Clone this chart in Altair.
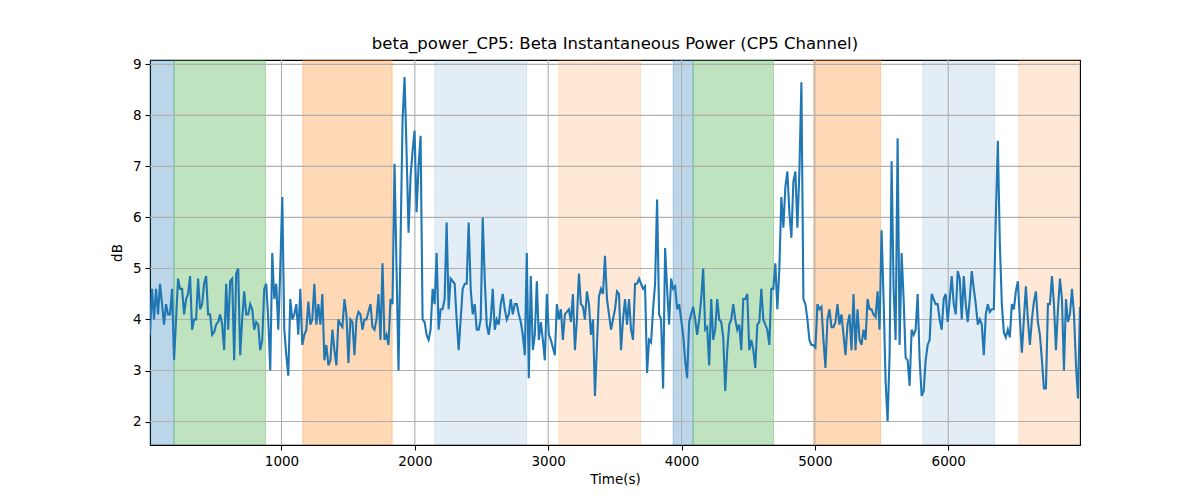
import altair as alt
import pandas as pd

# Beta power (dB) in order, left to right
seg_a = [3.7, 4.6, 4.0, 4.6, 4.1, 4.7, 4.3, 3.9, 4.3, 4.1, 4.1, 4.6, 3.2, 4.0, 4.8,
         4.6, 4.6, 4.1, 4.4, 4.5, 4.85, 3.8, 4.0, 4.0, 4.8, 4.2, 4.3, 4.7, 4.85, 4.1,
         4.1, 3.7, 3.75, 3.9, 3.95, 4.1, 3.9, 3.4, 4.7, 3.8, 4.75, 4.8, 3.2, 4.9, 5.0,
         3.3, 4.0, 4.55, 4.1, 4.1, 4.3, 4.2, 3.8, 3.95, 3.9, 3.4, 3.6, 4.6, 4.7]
seg_b = [4.0, 3.0, 5.3, 4.4, 4.7, 3.8, 5.0, 6.4, 3.8, 3.3, 2.9, 4.4, 4.0, 4.1, 4.3,
         3.7, 4.6, 3.5, 3.7, 3.8, 4.35, 3.9, 4.0, 4.7, 3.9, 4.3, 3.9, 4.5, 3.2, 3.5,
         3.1, 3.2, 3.8, 3.4, 3.1, 4.0, 3.9, 3.85, 4.4, 4.1, 3.15, 4.0, 3.95, 3.3, 4.0,
         4.15, 4.1, 3.8, 4.0, 4.0, 4.15, 4.3, 3.85, 3.8, 4.0, 4.5, 3.6, 5.1, 3.6, 3.7,
         3.5, 4.4, 4.3]
seg_c = [7.05, 5.0, 3.0, 5.5, 7.9, 8.75, 7.3, 5.7, 6.8, 7.3, 7.7, 6.1, 7.0, 7.6, 4.0,
         3.95, 3.7, 3.6, 3.8, 4.6, 4.3, 5.3, 3.8, 4.2, 4.2, 4.4, 5.9, 4.2, 4.8, 4.75,
         4.7, 4.0, 3.4, 4.0, 4.6, 4.7, 4.7, 5.9, 4.6, 4.1, 4.3, 3.8, 3.8, 4.0, 6.0,
         4.8, 3.9, 3.7, 4.0, 4.6, 3.8, 4.0, 3.9, 4.3, 4.5, 4.2, 4.0, 4.1, 4.4, 4.1]
seg_d = [4.3, 4.3, 4.1, 3.95, 3.7, 3.3, 5.3, 2.85, 4.85, 3.4, 3.7, 4.75, 3.6, 3.95, 3.6,
         3.2, 4.5, 3.7, 3.6, 3.45, 3.3, 4.3, 4.0, 4.2, 3.6, 4.1, 4.15, 4.2, 3.95, 4.5,
         3.4, 4.0, 4.9, 4.3, 4.25, 4.0, 4.55, 4.3, 3.7, 4.0, 2.5, 3.5, 4.45, 4.6, 4.5,
         5.25, 4.4, 4.1, 3.8, 4.0, 4.2, 4.55, 4.5, 3.4, 4.0, 4.4, 3.9, 4.4, 3.8, 3.6]
seg_e = [4.7, 4.7, 4.8, 4.7, 4.6, 4.65, 2.95, 3.6, 3.55, 4.2, 4.7, 6.35, 4.1, 4.0, 2.65,
         5.4, 4.6, 3.9, 4.8, 4.6, 4.65, 4.2, 4.3, 4.0, 3.7, 3.2, 2.85, 3.95, 4.1, 4.25,
         4.0, 3.7, 4.0, 4.4, 5.0, 3.8, 3.85, 3.1, 4.4, 3.6, 3.8, 4.4, 4.0, 3.95, 3.65,
         2.6, 3.4, 3.9, 4.0, 4.3, 4.0, 3.8, 3.9, 3.4, 4.4, 4.4, 4.5, 3.4, 3.6, 3.4]
seg_f = [3.05, 3.9, 3.95, 4.6, 4.0, 3.9, 3.8, 3.5, 4.6, 4.6, 5.1, 4.2, 5.0, 6.4, 5.8,
         6.6, 6.9, 6.1, 5.6, 6.7, 6.9, 5.8, 6.9, 8.65, 4.4, 4.3, 4.0, 3.6, 3.5, 3.5,
         3.45, 4.3, 4.2, 4.25, 3.6, 3.05, 4.0, 4.2, 3.85, 3.85, 3.95, 4.3, 3.9, 4.1, 3.7,
         3.3, 3.9, 4.1, 3.4, 4.5, 3.4, 4.2, 3.6, 3.5, 3.8, 3.6, 4.4, 4.2, 4.2, 4.1]
seg_g = [4.05, 4.55, 3.8, 5.75, 4.4, 2.8, 2.0, 3.3, 7.1, 4.6, 3.6, 7.55, 3.5, 5.3, 4.4,
         3.25, 3.2, 2.7, 3.8, 3.7, 3.8, 4.5, 3.2, 2.5, 2.6, 3.2, 3.5, 3.6, 4.5, 4.4,
         4.3, 4.3, 4.0, 3.8, 4.4, 4.5, 3.95, 4.4, 4.85, 4.3, 4.1, 4.95, 4.8, 4.0, 4.85,
         4.3, 3.95, 4.4, 4.95, 4.6, 4.3, 3.9, 4.0, 3.9, 3.3, 4.1, 4.3, 4.15, 4.2, 4.2]
seg_h = [6.0, 7.5, 5.5, 4.3, 3.75, 3.65, 3.8, 3.65, 4.3, 4.2, 4.55, 4.75, 4.0, 3.35, 4.0,
         4.65, 4.0, 3.5, 4.0, 4.35, 4.55, 3.95, 3.7, 3.2, 2.65, 2.65, 4.3, 4.3, 4.85, 4.3,
         3.4, 4.2, 4.8, 4.4, 3.0, 4.4, 3.95, 4.1, 4.6, 4.1, 3.1, 2.45, 4.25]

power = seg_a + seg_b + seg_c + seg_d + seg_e + seg_f + seg_g + seg_h
t_first, t_last = 14, 6988
time_s = [t_first + i * (t_last - t_first) / (len(power) - 1) for i in range(len(power))]

# Shaded event intervals
span_start = [0, 194, 1160, 2150, 3080, 3937, 4087, 4990, 5810, 6530]
span_end = [194, 880, 1830, 2838, 3693, 4087, 4690, 5493, 6348, 7100]
span_color = ["#1f77b4", "#2ca02c", "#ff7f0e", "#1f77b4", "#ff7f0e",
              "#1f77b4", "#2ca02c", "#ff7f0e", "#1f77b4", "#ff7f0e"]
span_alpha = [0.3, 0.3, 0.3, 0.13, 0.17, 0.3, 0.3, 0.3, 0.13, 0.17]

x_ticks = [1000, 2000, 3000, 4000, 5000, 6000]
y_ticks = [2, 3, 4, 5, 6, 7, 8, 9]

df = pd.DataFrame({"time": time_s, "power": power})
spans_df = pd.DataFrame({"start": span_start, "end": span_end,
                         "color": span_color, "alpha": span_alpha})
xg_df = pd.DataFrame({"x": x_ticks})
yg_df = pd.DataFrame({"y": y_ticks})

xscale = alt.Scale(domain=[t_first, t_last], nice=False, zero=False)
yscale = alt.Scale(domain=[1.54, 9.085], nice=False, zero=False)
x_axis = alt.Axis(title="Time(s)", values=x_ticks, format="d", grid=False, titlePadding=5)
y_axis = alt.Axis(title="dB", values=y_ticks, format="d", grid=False, titlePadding=8)

spans = alt.Chart(spans_df).mark_rect(clip=True, strokeWidth=1).encode(
    x=alt.X("start:Q", scale=xscale, axis=x_axis, title="Time(s)"),
    x2="end:Q",
    fill=alt.Fill("color:N", scale=None),
    stroke=alt.Stroke("color:N", scale=None),
    fillOpacity=alt.FillOpacity("alpha:Q", scale=None),
    strokeOpacity=alt.StrokeOpacity("alpha:Q", scale=None),
)

vgrid = alt.Chart(xg_df).mark_rule(color="#b0b0b0", strokeWidth=1.1).encode(
    x=alt.X("x:Q", scale=xscale, axis=x_axis, title="Time(s)")
)
hgrid = alt.Chart(yg_df).mark_rule(color="#b0b0b0", strokeWidth=1.1).encode(
    y=alt.Y("y:Q", scale=yscale, axis=y_axis, title="dB")
)

line = alt.Chart(df).mark_line(color="#1f77b4", strokeWidth=2.1, clip=True).encode(
    x=alt.X("time:Q", scale=xscale, axis=x_axis, title="Time(s)"),
    y=alt.Y("power:Q", scale=yscale, axis=y_axis, title="dB"),
)

chart = alt.layer(spans, vgrid, hgrid, line).properties(
    width=930,
    height=385,
    autosize=alt.AutoSizeParams(type="none"),
    padding={"left": 142, "top": 52, "right": 110, "bottom": 55},
    title=alt.TitleParams(
        "beta_power_CP5: Beta Instantaneous Power (CP5 Channel)",
        font="DejaVu Sans", fontSize=16.5, fontWeight="normal", color="black",
        anchor="middle", offset=5,
    ),
).configure_axis(
    domainColor="black", domainWidth=1.1, tickColor="black", tickWidth=1.1,
    tickSize=5, labelFont="DejaVu Sans", labelFontSize=13.5, labelColor="black",
    labelPadding=4, titleFont="DejaVu Sans", titleFontSize=13.5,
    titleFontWeight="normal", titleColor="black",
).configure_view(stroke="black", strokeWidth=1.1)

chart.save("out.html", embed_options={"renderer": "svg", "actions": False})
